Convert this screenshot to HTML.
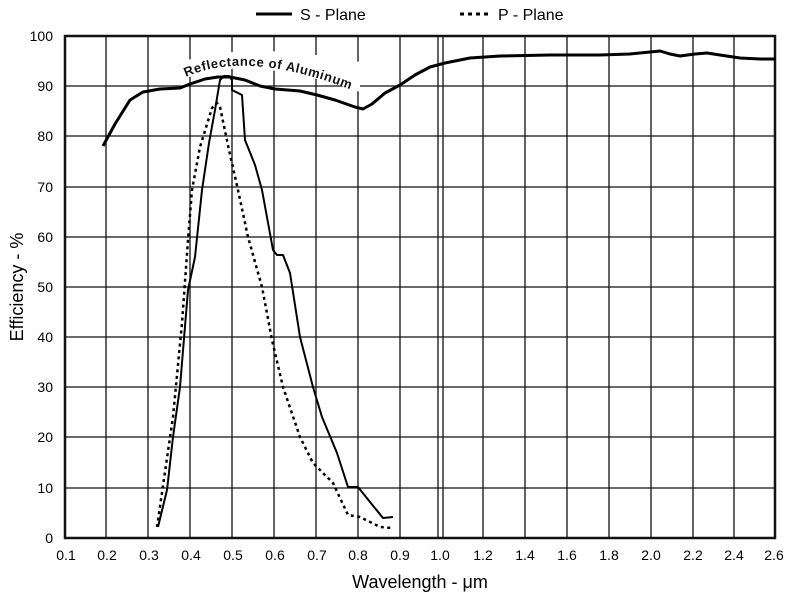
<!DOCTYPE html>
<html><head><meta charset="utf-8"><style>
html,body{margin:0;padding:0;background:#fff;}
svg{display:block;font-family:"Liberation Sans",sans-serif;}
</style></head><body>
<svg width="793" height="600" viewBox="0 0 793 600" xmlns="http://www.w3.org/2000/svg">
<rect width="793" height="600" fill="#fff"/>
<g stroke="#111" stroke-width="1.3">
<line x1="106" y1="36" x2="106" y2="538"/><line x1="148" y1="36" x2="148" y2="538"/>
<line x1="190" y1="36" x2="190" y2="538"/><line x1="232" y1="36" x2="232" y2="538"/>
<line x1="274" y1="36" x2="274" y2="538"/><line x1="316" y1="36" x2="316" y2="538"/>
<line x1="358" y1="36" x2="358" y2="538"/><line x1="400" y1="36" x2="400" y2="538"/>
<line x1="438" y1="36" x2="438" y2="538"/><line x1="443" y1="36" x2="443" y2="538"/>
<line x1="483" y1="36" x2="483" y2="538"/><line x1="525" y1="36" x2="525" y2="538"/>
<line x1="567" y1="36" x2="567" y2="538"/><line x1="609" y1="36" x2="609" y2="538"/>
<line x1="651" y1="36" x2="651" y2="538"/><line x1="693" y1="36" x2="693" y2="538"/>
<line x1="734" y1="36" x2="734" y2="538"/>
<line x1="65" y1="86" x2="775" y2="86"/><line x1="65" y1="136" x2="775" y2="136"/>
<line x1="65" y1="187" x2="775" y2="187"/><line x1="65" y1="237" x2="775" y2="237"/>
<line x1="65" y1="287" x2="775" y2="287"/><line x1="65" y1="337" x2="775" y2="337"/>
<line x1="65" y1="387" x2="775" y2="387"/><line x1="65" y1="437" x2="775" y2="437"/>
<line x1="65" y1="488" x2="775" y2="488"/>
</g>
<path d="M182,80 Q245,52 360,92 L360,62 Q245,40 182,62 Z" fill="#fff"/>
<rect x="65" y="36" width="710" height="502" fill="none" stroke="#111" stroke-width="2.5"/>
<path d="M103,146 L115,124 L130,100 L143,92 L160,89 L180,88 L190,84 L205,79 L218,77 L230,77 L245,80 L260,86 L275,89 L300,91 L317,95 L335,100 L355,107 L363,109 L372,104 L385,93 L400,85 L415,75 L430,67 L445,63 L470,58 L500,56 L550,55 L600,55 L630,54 L650,52 L660,51 L670,54 L680,56 L695,54 L707,53 L720,55 L740,58 L760,59 L775,59" fill="none" stroke="#000" stroke-width="3" stroke-linejoin="round"/>
<path d="M158,527 L167,490 L173,437 L180,387 L188,290 L195,257 L202,190 L209,143 L215,110 L220,80 L224,76 L229,76 L232,80 L232,90 L242,95 L245,140 L255,165 L262,190 L273,250 L277,255 L283,255 L290,273 L300,337 L313,387 L322,417 L337,453 L348,487 L358,487 L370,502 L383,518 L393,517" fill="none" stroke="#000" stroke-width="2" stroke-linejoin="round"/>
<path d="M157,527 L173,417 L182,323 L188,240 L192,190 L200,147 L212,108 L217,103 L220,107 L229,150 L238,190 L248,237 L262,287 L272,340 L283,387 L300,437 L313,463 L333,483 L348,515 L360,517 L380,527 L392,528" fill="none" stroke="#000" stroke-width="2.5" stroke-dasharray="3,3.5"/>
<defs><path id="arc" d="M186,77 Q250,48 362,94"/></defs>
<text font-size="13" font-weight="bold" fill="#111" letter-spacing="0.6"><textPath href="#arc">Reflectance  of  Aluminum</textPath></text>
<line x1="256" y1="14" x2="292" y2="14" stroke="#000" stroke-width="3"/>
<text x="300" y="20" font-size="16">S - Plane</text>
<line x1="460" y1="14" x2="490" y2="14" stroke="#000" stroke-width="3" stroke-dasharray="4,4"/>
<text x="498" y="20" font-size="16">P - Plane</text>
<g font-size="14" text-anchor="end">
<text x="53" y="41">100</text><text x="53" y="91">90</text><text x="53" y="141">80</text>
<text x="53" y="192">70</text><text x="53" y="242">60</text><text x="53" y="292">50</text>
<text x="53" y="342">40</text><text x="53" y="392">30</text><text x="53" y="442">20</text>
<text x="53" y="493">10</text><text x="53" y="543">0</text>
</g>
<g font-size="14" text-anchor="middle">
<text x="66" y="560">0.1</text><text x="107" y="560">0.2</text><text x="149" y="560">0.3</text>
<text x="191" y="560">0.4</text><text x="233" y="560">0.5</text><text x="275" y="560">0.6</text>
<text x="317" y="560">0.7</text><text x="358" y="560">0.8</text><text x="400" y="560">0.9</text>
<text x="440" y="560">1.0</text><text x="483" y="560">1.2</text><text x="525" y="560">1.4</text>
<text x="567" y="560">1.6</text><text x="609" y="560">1.8</text><text x="651" y="560">2.0</text>
<text x="693" y="560">2.2</text><text x="734" y="560">2.4</text><text x="774" y="560">2.6</text>
</g>
<text x="420" y="588" font-size="18" text-anchor="middle">Wavelength - μm</text>
<text transform="translate(23,287) rotate(-90)" font-size="18" text-anchor="middle">Efficiency - %</text>
</svg>
</body></html>
